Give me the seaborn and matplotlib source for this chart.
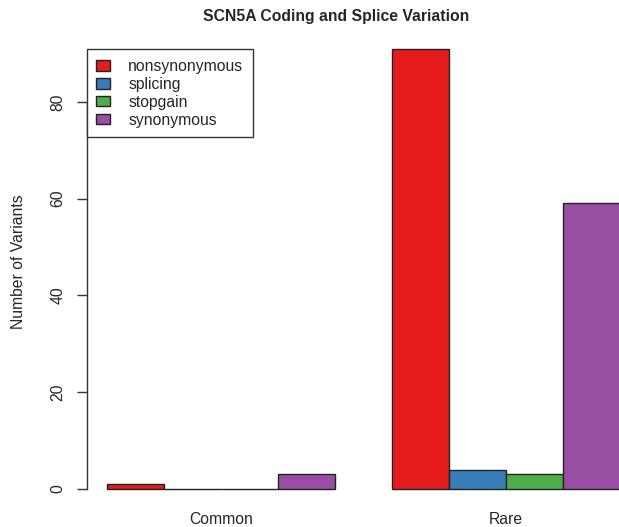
import pandas as pd
import seaborn as sns
import matplotlib.pyplot as plt

# data
groups = ['Common', 'Rare']
types = ['nonsynonymous', 'splicing', 'stopgain', 'synonymous']
common_counts = [1, 0, 0, 3]
rare_counts = [91, 4, 3, 59]
colors = ['#E41A1C', '#377EB8', '#4DAF4A', '#984EA3']

df = pd.DataFrame({
    'group': ['Common'] * 4 + ['Rare'] * 4,
    'type': types + types,
    'count': common_counts + rare_counts,
})

sns.set_style('white')
plt.rcParams['font.family'] = ['Liberation Sans', 'DejaVu Sans']
fs = 11.3

fig = plt.figure(figsize=(6.19, 5.27), dpi=100)
ax = fig.add_axes([86.5 / 619, 20.4 / 527, 554 / 619, 475.6 / 527])

sns.barplot(data=df, x='group', y='count', hue='type', order=groups, hue_order=types,
            palette=colors, saturation=1, width=0.8, edgecolor='#222222', linewidth=1,
            ax=ax)

ax.set_xlim(-0.472, 1.472)
ax.set_ylim(-3.64, 94.64)
ax.set_yticks([0, 20, 40, 60, 80])
ax.set_xlabel('')
ax.set_ylabel('')
for s in ['top', 'right', 'bottom']:
    ax.spines[s].set_visible(False)
ax.spines['left'].set_bounds(0, 80)
ax.spines['left'].set_color('#333333')
ax.spines['left'].set_linewidth(1)
ax.tick_params(axis='y', left=True, length=7.2, width=1, color='#333333', pad=8,
               labelsize=fs, labelrotation=90)
for t in ax.get_yticklabels():
    t.set_va('center')
ax.tick_params(axis='x', bottom=False, length=0, pad=4, labelsize=fs)

handles, labels = ax.get_legend_handles_labels()
ax.legend(handles, labels, loc='upper left', bbox_to_anchor=(0, 0.962), borderaxespad=0,
          fancybox=False, edgecolor='#333333', framealpha=1, fontsize=fs,
          handlelength=0.85, handleheight=0.65, handletextpad=1.2, labelspacing=0.19,
          borderpad=0.62)
ax.get_legend().get_frame().set_linewidth(1)

fig.text(336 / 619, 1 - 21 / 527, 'SCN5A Coding and Splice Variation', ha='center',
         va='baseline', fontsize=fs, fontweight='bold')
fig.text(19 / 619, 1 - 262 / 527, 'Number of Variants', rotation=90, ha='center',
         va='center', fontsize=fs)

fig.savefig('out.png', dpi=100)
